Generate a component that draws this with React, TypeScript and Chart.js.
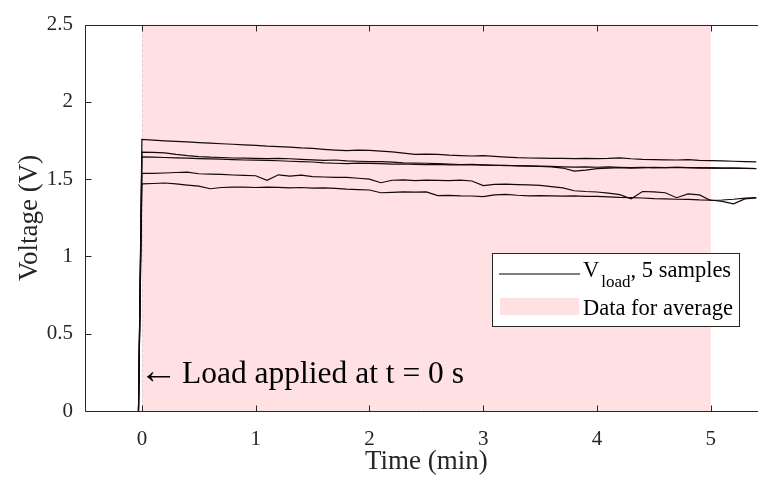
import React, { useEffect, useRef } from "react";
import { Chart, registerables } from "chart.js";

Chart.register(...registerables);

const TIME_MIN = [
  0, 0.1, 0.2, 0.3, 0.4, 0.5, 0.6, 0.7, 0.8, 0.9,
  1.0, 1.1, 1.2, 1.3, 1.4, 1.5, 1.6, 1.7, 1.8, 1.9,
  2.0, 2.1, 2.2, 2.3, 2.4, 2.5, 2.6, 2.7, 2.8, 2.9,
  3.0, 3.1, 3.2, 3.3, 3.4, 3.5, 3.6, 3.7, 3.8, 3.9,
  4.0, 4.1, 4.2, 4.3, 4.4, 4.5, 4.6, 4.7, 4.8, 4.9,
  5.0, 5.1, 5.2, 5.3, 5.4,
];
const LOAD_START_MIN = -0.03;

const SAMPLE_1 = [
  1.757, 1.752, 1.748, 1.744, 1.741, 1.737, 1.733, 1.729, 1.726, 1.722,
  1.719, 1.714, 1.711, 1.707, 1.702, 1.699, 1.693, 1.688, 1.684, 1.688,
  1.686, 1.681, 1.676, 1.668, 1.66, 1.662, 1.66, 1.655, 1.652, 1.65,
  1.652, 1.648, 1.643, 1.639, 1.637, 1.636, 1.635, 1.634, 1.633, 1.634,
  1.633, 1.634, 1.638, 1.632, 1.628, 1.626, 1.625, 1.624, 1.627, 1.622,
  1.62, 1.618, 1.616, 1.614, 1.612,
];
const SAMPLE_2 = [
  1.675, 1.673, 1.67, 1.66, 1.652, 1.646, 1.642, 1.64, 1.637, 1.636,
  1.634, 1.633, 1.635, 1.632, 1.628, 1.625, 1.622, 1.624, 1.618, 1.616,
  1.613, 1.614, 1.61, 1.606, 1.604, 1.603, 1.6, 1.597, 1.595, 1.596,
  1.593, 1.59, 1.588, 1.587, 1.586, 1.584, 1.583, 1.58, 1.578, 1.58,
  1.577, 1.579, 1.576, 1.574, 1.576, 1.573, 1.575, 1.577, 1.574, 1.572,
  1.573, 1.571, 1.572, 1.57, 1.569,
];
const SAMPLE_3 = [
  1.644, 1.643, 1.64, 1.638, 1.636, 1.633, 1.631, 1.629, 1.626, 1.624,
  1.623, 1.621, 1.619, 1.616, 1.613, 1.611, 1.606, 1.603, 1.601, 1.604,
  1.602, 1.6, 1.597, 1.598, 1.595, 1.594, 1.596, 1.593, 1.592, 1.594,
  1.591, 1.589, 1.59, 1.586, 1.584, 1.582, 1.58, 1.572, 1.552, 1.558,
  1.568, 1.572, 1.574, 1.572, 1.575, 1.577, 1.574, 1.576, 1.574, 1.575,
  1.573, 1.572, 1.571, 1.57, 1.568,
];
const SAMPLE_4 = [
  1.538, 1.537, 1.54, 1.543, 1.545, 1.535, 1.533, 1.531, 1.527, 1.524,
  1.522, 1.492, 1.528, 1.52, 1.526, 1.516, 1.514, 1.512, 1.511, 1.506,
  1.5, 1.477, 1.493, 1.496, 1.49, 1.494, 1.492, 1.491, 1.494, 1.488,
  1.458, 1.466, 1.468, 1.465, 1.463, 1.46, 1.452, 1.444, 1.425, 1.42,
  1.417, 1.41, 1.4, 1.373, 1.42, 1.418, 1.412, 1.38, 1.405, 1.398,
  1.362, 1.365, 1.37, 1.377, 1.38,
];
const SAMPLE_5 = [
  1.469, 1.472, 1.475, 1.47, 1.462, 1.455, 1.438, 1.446, 1.449, 1.448,
  1.446, 1.449, 1.447, 1.444, 1.446, 1.442, 1.444, 1.44, 1.435, 1.432,
  1.43, 1.412, 1.415, 1.418, 1.416, 1.418, 1.394, 1.395, 1.392, 1.391,
  1.387, 1.398, 1.402, 1.396, 1.392, 1.394, 1.392, 1.39, 1.392, 1.388,
  1.388, 1.386, 1.382, 1.38, 1.378, 1.374, 1.372, 1.37, 1.369, 1.366,
  1.365, 1.356, 1.34, 1.372, 1.378,
];
const SAMPLES = [SAMPLE_1, SAMPLE_2, SAMPLE_3, SAMPLE_4, SAMPLE_5];

const X_TICKS = [0, 1, 2, 3, 4, 5];
const Y_TICKS = [0, 0.5, 1, 1.5, 2, 2.5];
const X_MIN = -0.5;
const X_MAX = 5.415;
const X_TITLE_AT = 2.5;
const AVG_START = 0;
const AVG_END = 5;

const X_TITLE = "Time (min)";
const Y_TITLE = "Voltage (V)";
const ANNOTATION_ARROW = "\u2190";
const ANNOTATION = "Load applied at t = 0 s";
const LEGEND_LINE_MAIN = "V";
const LEGEND_LINE_SUB = "load";
const LEGEND_LINE_REST = ", 5 samples";
const LEGEND_AREA = "Data for average";

const SERIF = '"Liberation Serif", "Times New Roman", serif';
const AXIS_COLOR = "#262626";
const PINK = "#ffe1e4";

const decorPlugin = {
  id: "decor",
  beforeDatasetsDraw(chart: any) {
    const { ctx, chartArea, scales } = chart;
    const xs = scales.x;
    const x0 = xs.getPixelForValue(AVG_START);
    const x1 = xs.getPixelForValue(AVG_END);
    ctx.save();
    ctx.fillStyle = PINK;
    ctx.fillRect(x0, chartArea.top, x1 - x0, chartArea.bottom - chartArea.top);
    ctx.strokeStyle = "#cfcfcf";
    ctx.lineWidth = 1;
    ctx.setLineDash([2, 3]);
    ctx.beginPath();
    ctx.moveTo(Math.round(x0) + 0.5, chartArea.top);
    ctx.lineTo(Math.round(x0) + 0.5, chartArea.bottom);
    ctx.stroke();
    ctx.restore();
  },
  afterDatasetsDraw(chart: any) {
    const { ctx, chartArea, scales } = chart;
    const xs = scales.x;
    const ys = scales.y;
    const L = Math.round(chartArea.left) + 0.5;
    const B = Math.round(chartArea.bottom) + 0.5;
    const T = Math.round(chartArea.top) + 0.5;
    const R = chartArea.right;
    ctx.save();
    ctx.strokeStyle = AXIS_COLOR;
    ctx.lineWidth = 1;
    ctx.beginPath();
    ctx.moveTo(L, T);
    ctx.lineTo(R, T);
    ctx.moveTo(L, T);
    ctx.lineTo(L, B);
    ctx.lineTo(R, B);
    const tl = 6;
    X_TICKS.forEach((v) => {
      const px = Math.round(xs.getPixelForValue(v)) + 0.5;
      ctx.moveTo(px, B);
      ctx.lineTo(px, B - tl);
      ctx.moveTo(px, T);
      ctx.lineTo(px, T + tl);
    });
    Y_TICKS.forEach((v) => {
      const py = Math.round(ys.getPixelForValue(v)) + 0.5;
      ctx.moveTo(L, py);
      ctx.lineTo(L + tl, py);
    });
    ctx.stroke();

    // axis titles
    ctx.fillStyle = AXIS_COLOR;
    ctx.font = `27px ${SERIF}`;
    ctx.textAlign = "center";
    ctx.textBaseline = "alphabetic";
    ctx.fillText(X_TITLE, xs.getPixelForValue(X_TITLE_AT), 469);
    ctx.save();
    ctx.translate(37, (chartArea.top + chartArea.bottom) / 2);
    ctx.rotate(-Math.PI / 2);
    ctx.fillText(Y_TITLE, 0, 0);
    ctx.restore();

    // annotation
    ctx.fillStyle = "#000";
    ctx.textAlign = "left";
    ctx.font = `39px ${SERIF}`;
    ctx.fillText(ANNOTATION_ARROW, xs.getPixelForValue(0) - 3, 383);
    ctx.font = `31.5px ${SERIF}`;
    ctx.fillText(ANNOTATION, 182, 383);

    // legend
    const bx = 492.5, by = 253.5, bw = 247, bh = 73;
    ctx.fillStyle = "#fff";
    ctx.fillRect(bx, by, bw, bh);
    ctx.strokeStyle = AXIS_COLOR;
    ctx.lineWidth = 1;
    ctx.strokeRect(bx, by, bw, bh);
    ctx.strokeStyle = "#000";
    ctx.lineWidth = 1.2;
    ctx.beginPath();
    ctx.moveTo(499, 274);
    ctx.lineTo(580, 274);
    ctx.stroke();
    ctx.fillStyle = PINK;
    ctx.fillRect(500, 298, 79, 17);
    ctx.fillStyle = "#000";
    ctx.font = `22.5px ${SERIF}`;
    let tx = 583;
    ctx.fillText(LEGEND_LINE_MAIN, tx, 277);
    tx += ctx.measureText(LEGEND_LINE_MAIN).width + 2;
    ctx.font = `17px ${SERIF}`;
    ctx.fillText(LEGEND_LINE_SUB, tx, 287);
    tx += ctx.measureText(LEGEND_LINE_SUB).width;
    ctx.font = `22.5px ${SERIF}`;
    ctx.fillText(LEGEND_LINE_REST, tx, 277);
    ctx.fillText(LEGEND_AREA, 583, 315);
    ctx.restore();
  },
};

export default function App() {
  const ref = useRef<HTMLCanvasElement | null>(null);
  useEffect(() => {
    if (!ref.current) return;
    const datasets = SAMPLES.map((vals, i) => ({
      label: `Sample ${i + 1}`,
      data: [
        { x: LOAD_START_MIN, y: 0 },
        ...TIME_MIN.map((t, k) => ({ x: t, y: vals[k] })),
      ],
      borderColor: "#140808",
      borderWidth: 1.2,
      pointRadius: 0,
      showLine: true,
      fill: false,
      tension: 0,
    }));
    const chart = new Chart(ref.current, {
      type: "scatter",
      data: { datasets },
      options: {
        animation: false,
        responsive: false,
        maintainAspectRatio: false,
        layout: { padding: { top: 13, right: 0, left: 0, bottom: 0 } },
        plugins: { legend: { display: false }, tooltip: { enabled: false } },
        scales: {
          x: {
            type: "linear",
            min: X_MIN,
            max: X_MAX,
            grid: { display: false, tickLength: 0 },
            border: { display: false },
            afterBuildTicks: (s: any) => {
              s.ticks = X_TICKS.map((v) => ({ value: v }));
            },
            afterFit: (s: any) => {
              s.height = 73;
            },
            ticks: {
              padding: 16,
              color: AXIS_COLOR,
              font: { family: SERIF, size: 21 },
              callback: (v: any) => String(v),
            },
          },
          y: {
            type: "linear",
            min: 0,
            max: 2.5,
            grid: { display: false, tickLength: 0 },
            border: { display: false },
            afterBuildTicks: (s: any) => {
              s.ticks = Y_TICKS.map((v) => ({ value: v }));
            },
            afterFit: (s: any) => {
              s.width = 85;
            },
            ticks: {
              padding: 12,
              color: AXIS_COLOR,
              font: { family: SERIF, size: 21 },
              callback: (v: any) => String(v),
            },
          },
        },
      },
      plugins: [decorPlugin],
    });
    return () => chart.destroy();
  }, []);
  return (
    <div style={{ position: "absolute", left: 0, top: 0, width: 758, height: 484, background: "#fff" }}>
      <canvas ref={ref} width={758} height={484} style={{ display: "block" }} />
    </div>
  );
}
